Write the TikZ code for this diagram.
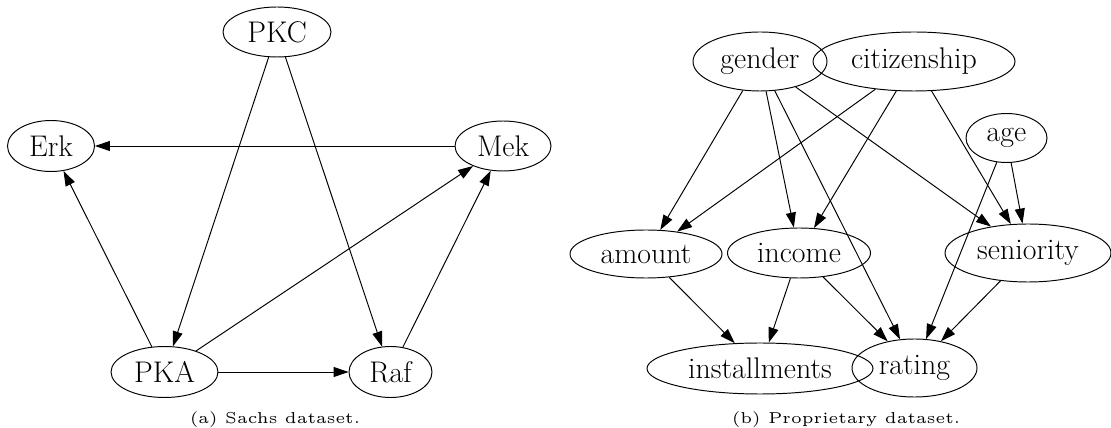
\documentclass[tikz,border=0pt]{standalone}
\usetikzlibrary{shapes.geometric,arrows.meta}

\tikzset{
  var/.style 2 args={ellipse, draw, inner sep=0pt,
    minimum width=#1*0.02cm, minimum height=#2*0.02cm,
    font=\fontsize{17}{20}\selectfont},
  subcap/.style={scale=1.8, font=\tiny},
}

\begin{document}
\begin{tikzpicture}[x=0.02cm, y=-0.02cm, line width=0.55pt,
    >={Triangle[length=0.3cm, width=0.2cm]}]
    \useasboundingbox (0,0) rectangle (1111,428);

    % Nodes (a)
    \node[var={108}{50}] at (277, 32) (PKC) {PKC};
    \node[var={87}{51}] at (51, 146) (Erk) {Erk};
    \node[var={96}{50}] at (503, 146) (Mek) {Mek};
    \node[var={107}{51}] at (164.5, 372) (PKA) {PKA};
    \node[var={83}{51}] at (390.5, 372) (Raf) {Raf};
    \node[subcap] at (275, 420) (capA) {(a) Sachs dataset.};

    % Arrows (a)
    \draw[->] (PKC) -- (PKA);
    \draw[->] (PKC) -- (Raf);
    \draw[->] (Mek) -- (Erk);
    \draw[->] (PKA) -- (Erk);
    \draw[->] (PKA) -- (Mek);
    \draw[->] (PKA) -- (Raf);
    \draw[->] (Raf) -- (Mek);

    % Nodes (b)
    \node[var={134}{59}] at (760, 61.5) (gender) {gender};
    \node[var={202}{59}] at (914, 61.5) (citizenship) {citizenship};
    \node[var={81}{49}] at (1006.5, 138) (age) {age};
    \node[var={152}{48}] at (646, 254) (amount) {amount};
    \node[var={143}{50}] at (799, 253) (income) {income};
    \node[var={166}{58}] at (1028, 253) (seniority) {seniority};
    \node[var={226}{51}] at (760, 368.5) (installments) {installments};
    \node[var={125}{58}] at (914.5, 368) (rating) {rating};
    \node[subcap] at (846, 420) (capB) {(b) Proprietary dataset.};

    % Arrows (b)
    \draw[->] (gender) -- (amount);
    \draw[->] (gender) -- (income);
    \draw[->] (gender) -- (rating);
    \draw[->] (gender) -- (seniority);
    \draw[->] (citizenship) -- (amount);
    \draw[->] (citizenship) -- (income);
    \draw[->] (citizenship) -- (seniority);
    \draw[->] (age) -- (seniority);
    \draw[->] (age) -- (rating);
    \draw[->] (amount) -- (installments);
    \draw[->] (income) -- (installments);
    \draw[->] (income) -- (rating);
    \draw[->] (seniority) -- (rating);
\end{tikzpicture}
\end{document}
